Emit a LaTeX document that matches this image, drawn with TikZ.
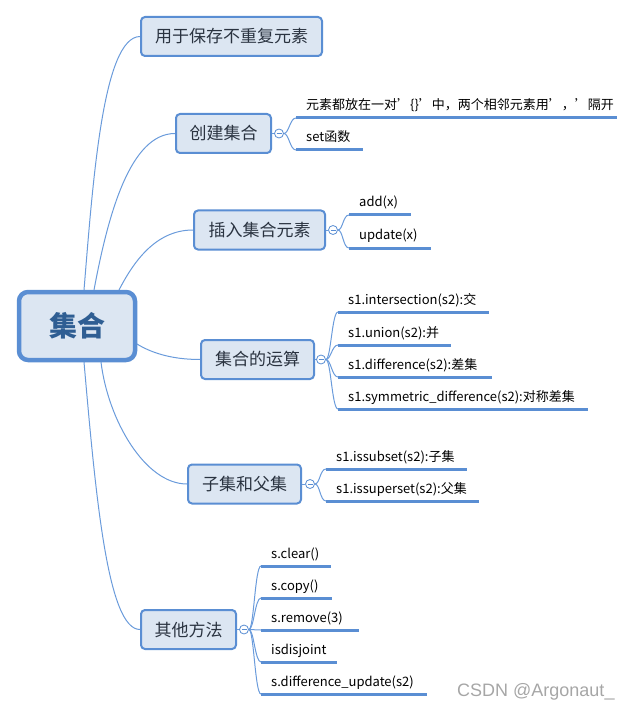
\documentclass[tikz,border=0pt]{standalone}
\usepackage{fontspec}
\newfontfamily\cjk{Noto Sans CJK SC}
\newfontfamily\wmfont{Liberation Sans}
\usetikzlibrary{calc}
\definecolor{bdr}{HTML}{5A8ED3}
\definecolor{boxfill}{HTML}{DCE6F2}
\definecolor{linec}{HTML}{6A9BDB}
\definecolor{ulc}{HTML}{5A8ED3}
\definecolor{roottext}{HTML}{2F5E93}
\definecolor{topictext}{HTML}{2A3340}
\definecolor{wmc}{HTML}{A6A6A6}
\tikzset{
  rootbox/.style={draw=bdr, fill=boxfill, line width=4.5pt, rounded corners=9pt,
    minimum width=116pt, minimum height=68pt, inner sep=0pt,
    font=\cjk\bfseries\fontsize{28}{32}\selectfont, text=roottext},
  topic/.style={draw=bdr, fill=boxfill, line width=2pt, rounded corners=4pt,
    minimum height=39pt, inner sep=0pt,
    font=\cjk\fontsize{17}{20}\selectfont, text=topictext},
  knob/.style={circle, draw=bdr, fill=white, line width=0.8pt, minimum size=9pt, inner sep=0pt,
    path picture={\draw[bdr, line width=0.7pt]
      ([xshift=2pt]path picture bounding box.west) -- ([xshift=-2pt]path picture bounding box.east);}},
  conn/.style={draw=linec, line width=1pt},
  ul/.style={draw=ulc, line width=3pt},
  leaf/.style={anchor=base west, inner sep=0pt, font=\cjk\fontsize{13}{15}\selectfont, text=black},
  wm/.style={anchor=west, inner sep=0pt, font=\wmfont\fontsize{18}{20}\selectfont, text=wmc}
}
\begin{document}
\begin{tikzpicture}[x=1pt,y=-1pt]
\useasboundingbox (0,0) rectangle (632,711);

% topic nodes
\node[topic, minimum width=181pt] (b1) at (231.5,36.5) {用于保存不重复元素};
\node[topic, minimum width=95pt]  (b2) at (223.5,133.5) {创建集合};
\node[topic, minimum width=131pt] (b3) at (259.5,230) {插入集合元素};
\node[topic, minimum width=113pt] (b4) at (257.5,359.5) {集合的运算};
\node[topic, minimum width=113pt] (b5) at (244.5,484) {子集和父集};
\node[topic, minimum width=95pt]  (b6) at (188.5,629.5) {其他方法};

% root placeholder coordinate for connectors (root drawn on top later)
\coordinate (rc) at (77,326);
\coordinate (rn) at (77,290);
\coordinate (rs) at (77,362);
\coordinate (re) at (137,326);

% connectors root -> topics
\draw[conn] ($(rn)+(7,0)$) .. controls (93,180) and (103,37) .. (b1.west);
\draw[conn] ($(rn)+(17,0)$) .. controls (108,215) and (130,133.5) .. (b2.west);
\draw[conn] ($(rn)+(42,0)$) .. controls (133,263) and (155,230) .. (b3.west);
\draw[conn] ($(re)+(0,18)$) .. controls (150,352) and (170,359.5) .. (b4.west);
\draw[conn] ($(rs)+(24,0)$) .. controls (108,420) and (145,484) .. (b5.west);
\draw[conn] ($(rs)+(7,0)$) .. controls (96,500) and (108,629.5) .. (b6.west);

% root node
\node[rootbox] (root) at (rc) {集合};

% knobs
\node[knob] (k2) at (279,133.5) {};
\node[knob] (k3) at (333,230) {};
\node[knob] (k4) at (321,359.5) {};
\node[knob] (k5) at (310,484) {};
\node[knob] (k6) at (244,629.5) {};
\foreach \i in {2,...,6} { \draw[conn] (b\i.east) -- (k\i.west); }

% leaf underline start points
\coordinate (u21) at (296,118);
\coordinate (u22) at (296,150);
\coordinate (u31) at (349,215);
\coordinate (u32) at (349,248);
\coordinate (u41) at (338,312);
\coordinate (u42) at (338,345);
\coordinate (u43) at (338,377);
\coordinate (u44) at (338,409);
\coordinate (u51) at (326,469);
\coordinate (u52) at (326,501);
\coordinate (u61) at (261,566);
\coordinate (u62) at (261,598);
\coordinate (u63) at (261,630);
\coordinate (u64) at (261,662);
\coordinate (u65) at (261,694);

% branch curves knob -> leaf
\foreach \k/\u in {k2/u21,k2/u22,k3/u31,k3/u32,k4/u41,k4/u42,k4/u43,k4/u44,k5/u51,k5/u52,k6/u61,k6/u62,k6/u63,k6/u64,k6/u65} {
  \draw[conn] (\k.east) .. controls ($(\k.east)+(5,0)$) and ($(\u)+(-6,0)$) .. (\u);
}

% underlines
\foreach \u/\len in {u21/321,u22/67,u31/62,u32/82,u41/151,u42/113,u43/154,u44/250,u51/141,u52/153,u61/70,u62/71,u63/98,u64/76,u65/166} {
  \draw[ul] (\u) -- ++(\len,0);
}

% leaf texts
\node[leaf] (l21) at ($(u21)+(10,-8)$) {元素都放在一对’\{\}’中，两个相邻元素用’，’隔开};
\node[leaf] (l22) at ($(u22)+(10,-8)$) {set函数};
\node[leaf] (l31) at ($(u31)+(10,-8)$) {add(x)};
\node[leaf] (l32) at ($(u32)+(10,-8)$) {update(x)};
\node[leaf] (l41) at ($(u41)+(10,-8)$) {s1.intersection(s2):交};
\node[leaf] (l42) at ($(u42)+(10,-8)$) {s1.union(s2):并};
\node[leaf] (l43) at ($(u43)+(10,-8)$) {s1.difference(s2):差集};
\node[leaf] (l44) at ($(u44)+(10,-8)$) {s1.symmetric\_difference(s2):对称差集};
\node[leaf] (l51) at ($(u51)+(10,-8)$) {s1.issubset(s2):子集};
\node[leaf] (l52) at ($(u52)+(10,-8)$) {s1.issuperset(s2):父集};
\node[leaf] (l61) at ($(u61)+(10,-8)$) {s.clear()};
\node[leaf] (l62) at ($(u62)+(10,-8)$) {s.copy()};
\node[leaf] (l63) at ($(u63)+(10,-8)$) {s.remove(3)};
\node[leaf] (l64) at ($(u64)+(10,-8)$) {isdisjoint};
\node[leaf] (l65) at ($(u65)+(10,-8)$) {s.difference\_update(s2)};

% watermark
\node[wm] (wmk) at (457,692) {CSDN @Argonaut\_};
\end{tikzpicture}
\end{document}
